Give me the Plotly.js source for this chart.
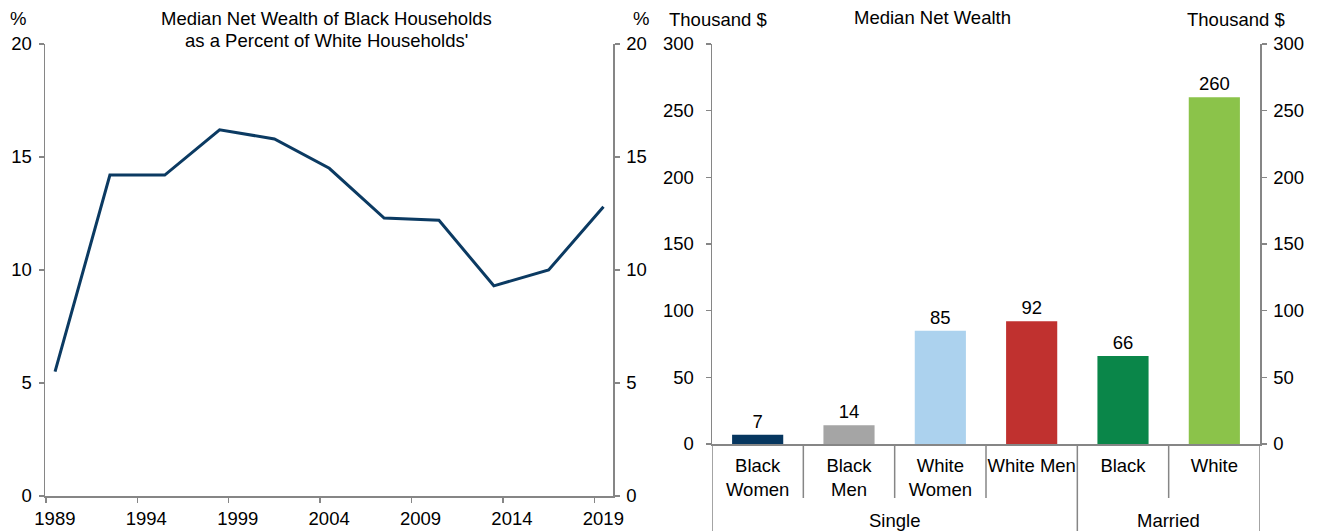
<!DOCTYPE html>
<html><head><meta charset="utf-8">
<script src="https://cdn.plot.ly/plotly-3.0.1.min.js"></script>
<style>body{margin:0;padding:0;background:#fff}#chart{width:1319px;height:531px}</style>
</head><body><div id="chart"></div>
<script>
// Left panel data
const years = [1989,1992,1995,1998,2001,2004,2007,2010,2013,2016,2019];
const ratioPct = [5.5,14.2,14.2,16.2,15.8,14.5,12.3,12.2,9.3,10.0,12.8];
const tickYears = [1989,1994,1999,2004,2009,2014,2019];
const leftTicks = [0,5,10,15,20];
// Right panel data
const categories = ['Black<br>Women','Black<br>Men','White<br>Women','White Men','Black','White'];
const groups = ['Single','Single','Single','Single','Married','Married'];
const wealthK = [7,14,85,92,66,260];
const rightTicks = [0,50,100,150,200,250,300];
const barColors = ['#06365f','#a5a5a5','#acd2ee','#c0312f','#0a8649','#8bc34a'];

const W = 1319, H = 531;
const FONT = 'Liberation Sans, Arial, sans-serif';
const FS = 18.5;
const AX = '#868686';
const px = v => v / W, py = v => 1 - v / H;

const traces = [
  {type:'scatter', mode:'lines', x: years, y: ratioPct, xaxis:'x', yaxis:'y',
   line:{color:'#0b3a62', width:3}, hoverinfo:'x+y'},
  // invisible companion so the right-hand % axis is drawn
  {type:'scatter', mode:'lines', x: years, y: ratioPct, xaxis:'x', yaxis:'y3',
   line:{color:'rgba(0,0,0,0)', width:0}, hoverinfo:'skip'},
  {type:'bar', x: categories, y: wealthK, xaxis:'x2', yaxis:'y2',
   marker:{color: barColors}, text: wealthK.map(String), textposition:'outside',
   textfont:{size:FS, color:'#000', family:FONT}, cliponaxis:false},
  // invisible companion so the right-hand Thousand $ axis is drawn
  {type:'scatter', mode:'lines', x: categories, y: wealthK, xaxis:'x2', yaxis:'y4',
   line:{color:'rgba(0,0,0,0)', width:0}, hoverinfo:'skip'}
];

const yBase = {showgrid:false, zeroline:false, showline:true, linecolor:AX, linewidth:1.5,
  ticks:'outside', ticklen:5, tickcolor:AX, tickwidth:1.5, tickfont:{size:FS,color:'#000'},
  ticklabelstandoff:3};

// group boundaries
const shapes = [];
const groupInfo = [];
let start = 0;
for (let i = 1; i <= groups.length; i++) {
  if (i === groups.length || groups[i] !== groups[start]) {
    groupInfo.push({name: groups[start], c: (start + i - 1) / 2});
    start = i;
  }
}
for (let i = 0; i < categories.length - 1; i++) {
  const b = i + 0.5;
  const isGroup = groups[i] !== groups[i+1];
  shapes.push({type:'line', xref:'x2', yref:'paper', x0:b, x1:b, y0:py(444), y1: isGroup ? 0 : py(498),
    line:{color:AX, width:1.5}});
}
shapes.push({type:'line', xref:'x2', yref:'paper', x0:-0.5, x1:-0.5, y0:py(444), y1:0, line:{color:AX,width:1.5}});
shapes.push({type:'line', xref:'x2', yref:'paper', x0:categories.length-0.5, x1:categories.length-0.5, y0:py(444), y1:0, line:{color:AX,width:1.5}});

const ann = (text, x, y, xref='paper') => ({text, x, y, xref, yref:'paper',
  showarrow:false, font:{size:FS, color:'#000', family:FONT}, xanchor:'center', yanchor:'middle'});

const annotations = [
  ann('Median Net Wealth of Black Households', px(326), py(18)),
  ann('as a Percent of White Households\'', px(326), py(40)),
  ann('%', px(18), py(18)),
  ann('%', px(641), py(18)),
  ann('Median Net Wealth', px(932), py(17)),
  ann('Thousand $', px(718), py(20)),
  ann('Thousand $', px(1236), py(20)),
];
groupInfo.forEach(g => annotations.push(ann(g.name, g.c, py(520), 'x2')));

const layout = {
  width: W, height: H, margin:{l:0,r:0,t:0,b:0}, showlegend:false,
  paper_bgcolor:'#fff', plot_bgcolor:'#fff',
  font:{family:FONT, size:FS, color:'#000'},
  bargap: 0.44,
  xaxis:{domain:[px(45), px(613)], anchor:'y', range:[1988.45, 2019.52],
    tickvals: tickYears.map(y => y - 0.5), ticktext: tickYears.map(String), ticklabelshift: 9,
    showgrid:false, zeroline:false, showline:true, linecolor:AX, linewidth:1.5,
    ticks:'outside', ticklen:5, tickcolor:AX, tickwidth:1.5, tickfont:{size:FS,color:'#000'}},
  yaxis:Object.assign({}, yBase, {domain:[py(496), py(44)], anchor:'x', range:[0,20], tickvals:leftTicks, side:'left'}),
  yaxis3:Object.assign({}, yBase, {overlaying:'y', anchor:'x', side:'right', range:[0,20], tickvals:leftTicks}),
  xaxis2:{domain:[px(712), px(1260)], anchor:'y2', type:'category', range:[-0.5, categories.length-0.5],
    showgrid:false, zeroline:false, showline:true, linecolor:AX, linewidth:1.5, ticks:'',
    ticklabelstandoff:4, tickfont:{size:FS,color:'#000'}},
  yaxis2:Object.assign({}, yBase, {domain:[py(444), py(44)], anchor:'x2', range:[0,300], tickvals:rightTicks, side:'left', ticklabelstandoff:8}),
  yaxis4:Object.assign({}, yBase, {overlaying:'y2', anchor:'x2', side:'right', range:[0,300], tickvals:rightTicks}),
  shapes, annotations
};
Plotly.newPlot('chart', traces, layout, {displayModeBar:false, staticPlot:true});
</script></body></html>
